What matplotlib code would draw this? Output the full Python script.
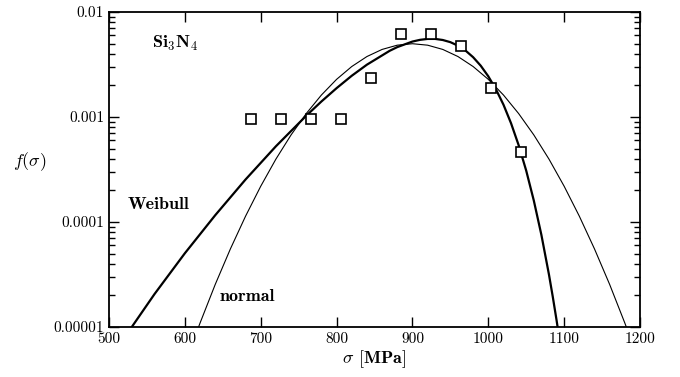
import numpy as np
import matplotlib
matplotlib.use("Agg")
import matplotlib.pyplot as plt
from matplotlib.ticker import LogLocator, NullFormatter

plt.rcParams['mathtext.fontset'] = 'cm'
plt.rcParams['font.family'] = 'cmr10'
plt.rcParams['axes.formatter.use_mathtext'] = True

# measured points (stress in MPa, frequency)
sig_pts = [687, 727, 766, 806, 846, 885, 925, 964, 1004, 1043]
f_pts = [0.00095, 0.00095, 0.00095, 0.00095, 0.00235, 0.0062, 0.0062, 0.0047, 0.0019, 0.00046]

# Weibull curve
sig_w = [525, 530, 560, 600, 640, 680, 720, 760, 780, 800, 820, 840, 870, 880, 900,
         910, 920, 930, 940, 950, 960, 970, 980, 990, 1000, 1010, 1020, 1030, 1040,
         1050, 1060, 1070, 1080, 1085, 1090, 1095]
f_w = [8.9e-6, 1.0e-5, 2.06e-5, 5.04e-5, 1.16e-4, 2.54e-4, 5.26e-4, 1.028e-3,
       1.405e-3, 1.882e-3, 2.47e-3, 3.15e-3, 4.27e-3, 4.63e-3, 5.23e-3,
       5.43e-3, 5.54e-3, 5.54e-3, 5.41e-3, 5.16e-3, 4.78e-3, 4.29e-3, 3.71e-3,
       3.08e-3, 2.44e-3, 1.84e-3, 1.31e-3, 8.71e-4, 5.39e-4,
       3.08e-4, 1.60e-4, 7.53e-5, 3.15e-5, 1.94e-5, 1.16e-5, 6.7e-6]

# normal curve
sig_n = [610, 620, 640, 660, 680, 700, 720, 740, 760, 780, 800, 820, 840, 860, 880,
         900, 920, 940, 960, 980, 1000, 1020, 1040, 1060, 1080, 1100, 1120, 1140,
         1160, 1180, 1190]
f_n = [6.99e-6, 1.09e-5, 2.54e-5, 5.54e-5, 1.136e-4, 2.19e-4, 3.97e-4, 6.75e-4,
       1.078e-3, 1.619e-3, 2.283e-3, 3.024e-3, 3.765e-3, 4.40e-3, 4.83e-3, 4.987e-3,
       4.83e-3, 4.40e-3, 3.765e-3, 3.024e-3, 2.283e-3, 1.619e-3, 1.078e-3, 6.75e-4,
       3.97e-4, 2.19e-4, 1.136e-4, 5.54e-5, 2.54e-5, 1.09e-5, 6.99e-6]

xticks = [500, 600, 700, 800, 900, 1000, 1100, 1200]
yticks = [1e-5, 1e-4, 1e-3, 1e-2]
ylabels = ['0.00001', '0.0001', '0.001', '0.01']

fig = plt.figure(figsize=(6.8, 3.77), dpi=100)
ax = fig.add_axes([0.1603, 0.1326, 0.7809, 0.8356])

ax.plot(sig_w, f_w, color='black', lw=1.6)
ax.plot(sig_n, f_n, color='black', lw=0.8)
ax.plot(sig_pts, f_pts, 's', ms=7, mfc='white', mec='black', mew=1.2)

ax.set_yscale('log')
ax.set_xlim(500, 1200)
ax.set_ylim(1e-5, 1e-2)
ax.set_xticks(xticks)
ax.set_xticklabels([str(t) for t in xticks])
ax.set_yticks(yticks)
ax.set_yticklabels(ylabels)
ax.yaxis.set_minor_locator(LogLocator(base=10, subs=np.arange(2, 10)))
ax.yaxis.set_minor_formatter(NullFormatter())

ax.tick_params(which='both', direction='in', top=True, right=True, labelsize=11, width=1.0)
ax.tick_params(which='major', length=7)
ax.tick_params(which='minor', length=4)
for s in ax.spines.values():
    s.set_linewidth(1.3)

ax.text(557, 10**-2.295, r'$\mathbf{Si_3N_4}$', fontsize=13, va='center', ha='left')
ax.text(524, 10**-3.838, 'Weibull', family='cmb10', fontsize=13, va='center', ha='left')
ax.text(646, 10**-4.714, 'normal', family='cmb10', fontsize=13, va='center', ha='left')

ax.set_xlabel(r'$\sigma$ $\mathbf{[MPa]}$', fontsize=13, labelpad=2)
ax.set_ylabel(r'$f(\sigma)$', fontsize=13, rotation=0, labelpad=0)
ax.yaxis.set_label_coords(-0.15, 0.49)

fig.savefig('out.png', dpi=100, facecolor='white')
